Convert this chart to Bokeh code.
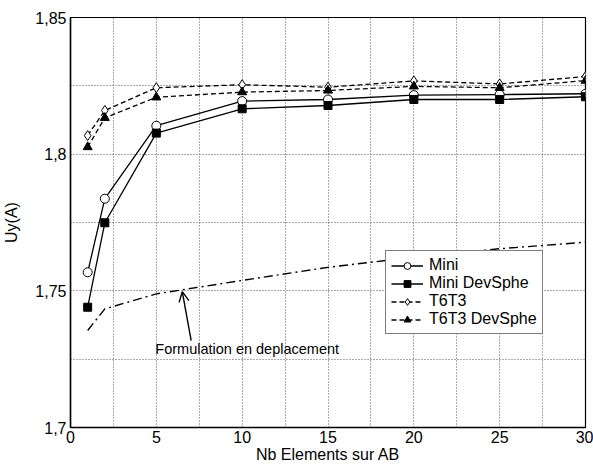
from bokeh.plotting import figure
from bokeh.models import (Range1d, FixedTicker, Legend, LegendItem, Arrow, OpenHead, Label)
from bokeh.embed import file_html
from bokeh.resources import INLINE

# ---- data ----
nb_elements = [1, 2, 5, 10, 15, 20, 25, 30]
mini = [1.7568, 1.7837, 1.8104, 1.8194, 1.8200, 1.8216, 1.8218, 1.8221]
mini_devsphe = [1.7440, 1.7749, 1.8077, 1.8166, 1.8178, 1.8200, 1.8200, 1.8210]
t6t3 = [1.8068, 1.8160, 1.8243, 1.8254, 1.8245, 1.8268, 1.8257, 1.8284]
t6t3_devsphe = [1.8026, 1.8133, 1.8208, 1.8227, 1.8233, 1.8248, 1.8243, 1.8269]
formulation = [1.7355, 1.7434, 1.7489, 1.7538, 1.7586, 1.7623, 1.7654, 1.7678]

x_ticks = [0, 5, 10, 15, 20, 25, 30]
x_minor = [2.5, 7.5, 12.5, 17.5, 22.5, 27.5]
y_ticks = [1.7, 1.75, 1.8, 1.85]
y_minor = [1.725, 1.775, 1.825]
y_tick_labels = ["1,7", "1,75", "1,8", "1,85"]

annot_text = "Formulation en deplacement"
annot_pos = (4.94, 1.7289)
arrow_tail = (7.03, 1.7318)
arrow_tip = (6.51, 1.7497)

FONT = "Liberation Sans"
FS = "16px"

p = figure(width=593, height=466, output_backend="svg", toolbar_location=None,
           x_range=Range1d(0, 30), y_range=Range1d(1.7, 1.85),
           min_border_left=69, min_border_right=8, min_border_top=17, min_border_bottom=39)
p.background_fill_color = "white"
p.border_fill_color = "white"
p.outline_line_color = "black"
p.outline_line_width = 1.2

p.xaxis.ticker = FixedTicker(ticks=x_ticks, minor_ticks=x_minor)
p.yaxis.ticker = FixedTicker(ticks=y_ticks, minor_ticks=y_minor)
p.yaxis.major_label_overrides = {t: l for t, l in zip(y_ticks, y_tick_labels)}

for ax in (p.xaxis[0], p.yaxis[0]):
    ax.axis_line_color = "black"
    ax.axis_line_width = 1.5
    ax.major_tick_line_color = None
    ax.minor_tick_line_color = None
    ax.major_tick_out = 0
    ax.major_tick_in = 0
    ax.minor_tick_out = 0
    ax.minor_tick_in = 0
    ax.major_label_text_font = FONT
    ax.major_label_text_font_size = FS
    ax.major_label_text_color = "black"
    ax.axis_label_text_font = FONT
    ax.axis_label_text_font_size = FS
    ax.axis_label_text_font_style = "normal"
    ax.axis_label_text_color = "black"

p.xaxis.axis_label = "Nb Elements sur AB"
p.yaxis.axis_label = "Uy(A)"
p.xaxis.major_label_standoff = 3
p.xaxis.axis_label_standoff = 0
p.yaxis.major_label_standoff = 4
p.yaxis.axis_label_standoff = 12

for g in (p.xgrid[0], p.ygrid[0]):
    g.grid_line_color = "#555555"
    g.grid_line_width = 1
    g.grid_line_dash = "1 2"
    g.minor_grid_line_color = "#555555"
    g.minor_grid_line_width = 1
    g.minor_grid_line_dash = "1 2"

# formulation curve
p.line(nb_elements, formulation, line_color="black", line_width=1.4, line_dash="9 4 2 4")

items = []
l1 = p.line(nb_elements, mini, line_color="black", line_width=1.3)
s1 = p.scatter(nb_elements, mini, marker="circle", size=9, fill_color="white", line_color="black", line_width=1)
items.append(LegendItem(label="Mini", renderers=[l1, s1]))

l2 = p.line(nb_elements, mini_devsphe, line_color="black", line_width=1.3)
s2 = p.scatter(nb_elements, mini_devsphe, marker="square", size=8, fill_color="black", line_color="black")
items.append(LegendItem(label="Mini DevSphe", renderers=[l2, s2]))

l3 = p.line(nb_elements, t6t3, line_color="black", line_width=1.3, line_dash="5 3")
s3 = p.scatter(nb_elements, t6t3, marker="diamond", size=10, fill_color="white", line_color="black", line_width=1)
items.append(LegendItem(label="T6T3", renderers=[l3, s3]))

l4 = p.line(nb_elements, t6t3_devsphe, line_color="black", line_width=1.3, line_dash="5 3")
s4 = p.scatter(nb_elements, t6t3_devsphe, marker="triangle", size=9, fill_color="black", line_color="black")
items.append(LegendItem(label="T6T3 DevSphe", renderers=[l4, s4]))

legend = Legend(items=items, location=(315, 93), label_text_font=FONT, label_text_font_size=FS,
                label_text_color="black", glyph_width=32, glyph_height=17, label_height=17,
                label_standoff=6, spacing=0, padding=5, margin=0,
                border_line_color="black", border_line_width=1.2, background_fill_color="white",
                background_fill_alpha=1.0)
p.add_layout(legend, "center")

p.add_layout(Arrow(end=OpenHead(size=10, line_color="black", line_width=1.4),
                   x_start=arrow_tail[0], y_start=arrow_tail[1],
                   x_end=arrow_tip[0], y_end=arrow_tip[1],
                   line_color="black", line_width=1.4))
p.add_layout(Label(x=annot_pos[0], y=annot_pos[1], text=annot_text, text_font=FONT,
                   text_font_size="14.5px", text_color="black", text_baseline="middle"))

open("out.html", "w").write(file_html(p, INLINE))
